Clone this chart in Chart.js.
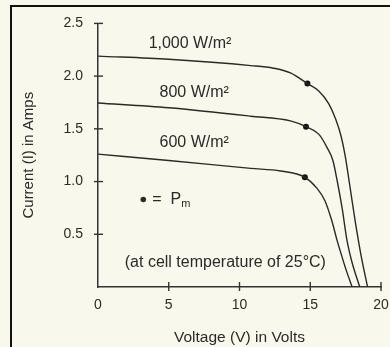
<!DOCTYPE html>
<html>
<head>
<meta charset="utf-8">
<script src="https://cdn.jsdelivr.net/npm/chart.js@4.4.1/dist/chart.umd.min.js"></script>
<style>
  html, body { margin: 0; padding: 0; background: #f9f8ec; }
  #wrap { width: 390px; height: 347px; }
</style>
</head>
<body>
<div id="wrap"><canvas id="myChart" width="390" height="347"></canvas></div>
<script>
// I-V curves of a module at three irradiance levels
var irrLabels = ['1,000 W/m²', '800 W/m²', '600 W/m²']

var volts1000 = [0, 5, 10.8, 12.4, 13.6, 14.8, 15.6, 16.3, 16.8, 17.18, 17.46, 17.82, 18.17, 18.59, 19.05]
var amps1000  = [2.19, 2.16, 2.10, 2.075, 2.03, 1.93, 1.86, 1.74, 1.59, 1.43, 1.25, 0.94, 0.63, 0.30, 0]

var volts800 = [0, 5, 10.8, 13.6, 14.7, 15.6, 16.2, 16.6, 16.9, 17.25, 17.6, 17.96, 18.5]
var amps800  = [1.745, 1.70, 1.62, 1.575, 1.52, 1.45, 1.32, 1.20, 1.01, 0.75, 0.44, 0.23, 0]

var volts600 = [0, 5, 10.8, 12.9, 14.62, 15.45, 16.03, 16.52, 16.9, 17.1, 17.54, 17.96]
var amps600  = [1.26, 1.20, 1.125, 1.10, 1.04, 0.94, 0.82, 0.63, 0.44, 0.35, 0.16, 0]

// max power points
var pmVolts = [14.8, 14.7, 14.62]
var pmAmps  = [1.93, 1.52, 1.04]

var xTicks = [0, 5, 10, 15, 20]
var yTicks = [0, 0.5, 1.0, 1.5, 2.0, 2.5]

var FONT = '"Liberation Sans", Arial, sans-serif'
var INK = '#2a2a2a'

function pts (xs, ys) {
  let out = []
  for (let i = 0; i < xs.length; i++) out.push({x: xs[i], y: ys[i]})
  return out
}

function curve (xs, ys) {
  return {
    data: pts(xs, ys),
    showLine: true,
    borderColor: INK,
    borderWidth: 1.4,
    pointRadius: 0,
    cubicInterpolationMode: 'monotone',
    fill: false
  }
}

// background, frame, crossing tick marks and the text notes
const extras = {
  id: 'extras',
  beforeDraw (chart) {
    const c = chart.ctx
    c.save()
    c.fillStyle = '#f9f8ec'
    c.fillRect(0, 0, chart.width, chart.height)
    c.strokeStyle = '#111'
    c.lineWidth = 2
    c.beginPath()
    c.moveTo(11, chart.height)
    c.lineTo(11, 6)
    c.lineTo(chart.width, 6)
    c.stroke()
    c.restore()
  },
  afterDatasetsDraw (chart) {
    const c = chart.ctx
    const xs = chart.scales.x
    const ys = chart.scales.y
    const a = chart.chartArea
    c.save()
    c.strokeStyle = '#333'
    c.lineWidth = 1.4
    xTicks.forEach(v => {
      if (v === 0) return
      const px = xs.getPixelForValue(v)
      c.beginPath(); c.moveTo(px, a.bottom - 5); c.lineTo(px, a.bottom + 4); c.stroke()
    })
    yTicks.forEach(v => {
      if (v === 0) return
      const py = ys.getPixelForValue(v)
      c.beginPath(); c.moveTo(a.left - 4, py); c.lineTo(a.left + 5, py); c.stroke()
    })

    c.fillStyle = INK
    c.font = '16px ' + FONT
    c.textAlign = 'center'
    c.textBaseline = 'middle'
    const notes = [[6.5, 2.31], [6.8, 1.84], [6.8, 1.37]]
    irrLabels.forEach((t, i) => {
      c.fillText(t, xs.getPixelForValue(notes[i][0]), ys.getPixelForValue(notes[i][1]))
    })
    c.fillText('(at cell temperature of 25°C)', xs.getPixelForValue(9.0), ys.getPixelForValue(0.23))

    // "• = Pm"
    const dx = xs.getPixelForValue(3.2)
    const dy = ys.getPixelForValue(0.83)
    c.beginPath(); c.arc(dx, dy, 2.8, 0, Math.PI * 2); c.fill()
    c.textAlign = 'left'
    c.fillText('=  P', dx + 9, dy)
    const w = c.measureText('=  P').width
    c.font = '11px ' + FONT
    c.fillText('m', dx + 9 + w, dy + 4)
    c.restore()
  }
}

const ctx = document.getElementById('myChart').getContext('2d')
const myChart = new Chart(ctx, {
  type: 'scatter',
  data: {
    datasets: [
      curve(volts1000, amps1000),
      curve(volts800, amps800),
      curve(volts600, amps600),
      {
        data: pts(pmVolts, pmAmps),
        pointRadius: 3,
        pointBackgroundColor: '#111',
        pointBorderWidth: 0,
        showLine: false
      }
    ]
  },
  options: {
    responsive: false,
    animation: false,
    events: [],
    layout: { padding: { left: 12, top: 22, right: 9, bottom: 0 } },
    plugins: { legend: { display: false }, tooltip: { enabled: false } },
    scales: {
      x: {
        type: 'linear',
        min: 0, max: 20,
        afterFit: s => { s.height = 60; s.paddingLeft = 0; s.paddingRight = 0 },
        afterBuildTicks: s => { s.ticks = xTicks.map(v => ({value: v})) },
        grid: { display: false, drawTicks: false },
        border: { display: true, color: '#333', width: 1.5 },
        ticks: { padding: 10, color: INK, font: { family: FONT, size: 14 } },
        title: { display: true, text: 'Voltage (V) in Volts', color: INK, font: { family: FONT, size: 15.5 }, padding: { top: 6, bottom: 0 } }
      },
      y: {
        type: 'linear',
        min: 0, max: 2.5,
        afterFit: s => { s.width = 86 },
        afterBuildTicks: s => { s.ticks = yTicks.map(v => ({value: v})) },
        grid: { display: false, drawTicks: false },
        border: { display: true, color: '#333', width: 1.5 },
        ticks: {
          padding: 15, color: INK, font: { family: FONT, size: 14 },
          callback: v => v === 0 ? '' : v.toFixed(1)
        },
        title: { display: true, text: 'Current (I) in Amps', color: INK, font: { family: FONT, size: 15 }, padding: { top: 8, bottom: 0 } }
      }
    }
  },
  plugins: [extras]
})
</script>
</body>
</html>
